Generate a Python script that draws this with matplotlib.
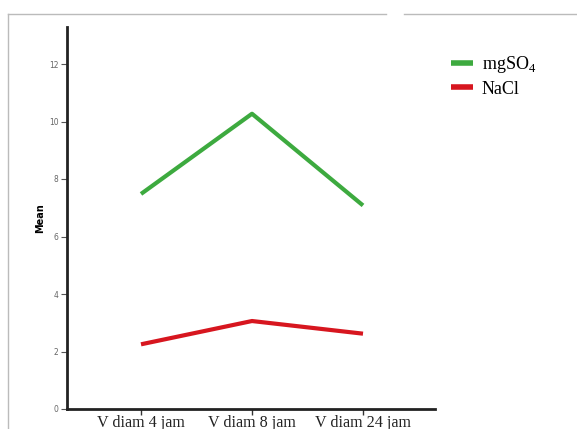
import matplotlib
matplotlib.use("Agg")
import matplotlib.pyplot as plt
from matplotlib.lines import Line2D

categories = ["V diam 4 jam", "V diam 8 jam", "V diam 24 jam"]
mgso4 = [7.48, 10.27, 7.08]
nacl = [2.25, 3.06, 2.62]
yticks = [0, 2, 4, 6, 8, 10, 12]

W, H = 577, 429
fig = plt.figure(figsize=(W / 100, H / 100), dpi=100)
fig.patch.set_facecolor("white")

ax = fig.add_axes([67 / W, 20 / H, 368 / W, 382 / H])
x = list(range(len(categories)))
ax.plot(x, mgso4, color="#3daa3f", lw=3.0, solid_capstyle="butt", label=r"mgSO$_\mathregular{4}$")
ax.plot(x, nacl, color="#d7161f", lw=3.0, solid_capstyle="butt", label="NaCl")

ax.set_xlim((67 - 141) / 111, (435 - 141) / 111)
ax.set_ylim(0, 382 / 28.75)
ax.set_xticks(x)
ax.set_xticklabels(categories, family="Liberation Serif", fontsize=11.6, color="#222222")
ax.set_yticks(yticks)
ax.set_yticklabels([str(v) for v in yticks], fontsize=5.5, color="#666666")
ax.tick_params(axis="y", length=4, width=0.8, color="#555555", pad=2)
ax.tick_params(axis="x", length=4, width=1, color="#333333", pad=0)
for s in ["top", "right"]:
    ax.spines[s].set_visible(False)
for s in ["left", "bottom"]:
    ax.spines[s].set_linewidth(2)
    ax.spines[s].set_color("#222222")
ax.set_ylabel("Mean", fontsize=7, fontweight="bold", labelpad=3)

leg = fig.legend(loc="upper left", bbox_to_anchor=(444 / W, 1 - 47 / H), frameon=False,
                 prop={"family": "Liberation Serif", "size": 13}, handlelength=1.2,
                 handletextpad=0.5, labelspacing=0.3, borderaxespad=0)
for h in leg.legend_handles:
    h.set_linewidth(4)

# frame lines
fig.add_artist(Line2D([8 / W, 386 / W], [1 - 14 / H, 1 - 14 / H], color="#bbbbbb", lw=1))
fig.add_artist(Line2D([404 / W, 1], [1 - 14 / H, 1 - 14 / H], color="#bbbbbb", lw=1))
fig.add_artist(Line2D([8 / W, 8 / W], [0, 1 - 14 / H], color="#bbbbbb", lw=1))

fig.savefig("out.png", dpi=100)
